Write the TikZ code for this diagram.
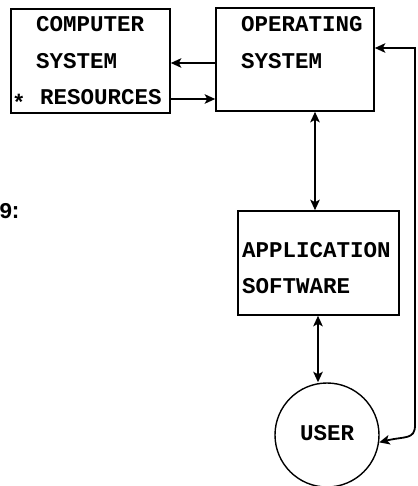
\documentclass[tikz,border=0pt]{standalone}
\usepackage{fontspec}
\setmainfont{Liberation Mono}
\usetikzlibrary{arrows.meta}
\begin{document}
\begin{tikzpicture}[x=1pt,y=-1pt,
  box/.style={draw,line width=1.6pt,minimum width=#1,inner sep=0pt},
  lbl/.style={anchor=base west,inner sep=0pt,font=\fontsize{22.5}{26}\selectfont\bfseries},
  head/.tip={Stealth[length=10.5pt,width=9.5pt,inset=2.5pt]},
  tip/.style={-head,line width=1.8pt},
  tips/.style={head-head,line width=1.8pt}]
\useasboundingbox (0,0) rectangle (417,486);

% boxes
\node[box=159pt,minimum height=104pt] (cs)  at (90.5,61)   {};
\node[box=158pt,minimum height=103pt] (os)  at (295,59.5)  {};
\node[box=161pt,minimum height=104pt] (app) at (318.5,263) {};
\node[draw,circle,line width=1.4pt,minimum size=104pt,inner sep=0pt] (user) at (327,435) {};

% labels
\node[lbl] (t1) at (36,32)   {COMPUTER};
\node[lbl] (t2) at (36,69)   {SYSTEM};
\node[lbl] (t3) at (40,105)  {RESOURCES};
\node[lbl] (t4) at (12,111)  {*};
\node[lbl] (t5) at (241,32)  {OPERATING};
\node[lbl] (t6) at (241,69)  {SYSTEM};
\node[lbl] (t7) at (242,257) {APPLICATION};
\node[lbl] (t8) at (242,293) {SOFTWARE};
\node[lbl] (t9) at (300,440) {USER};
\node[lbl] (t0) at (-1,218)  {9};
\node[lbl] (t0b) at (8.8,218) {:};

% connectors
\draw[tip] (os.west |- 0,63) -- (cs.east |- 0,63);
\draw[tip] (cs.east |- 0,99) -- (os.west |- 0,99);
\draw[tips] (os.south -| 315,0) -- (app.north -| 315,0);
\draw[tips] (app.south -| 318,0) -- (user.north -| 318,0);
\coordinate (c1) at (415,48);
\draw[tips] (os.east |- c1) -- (c1) -- (415,425)
  .. controls (415,440) and (405,436) .. (user.-8);
\end{tikzpicture}
\end{document}
